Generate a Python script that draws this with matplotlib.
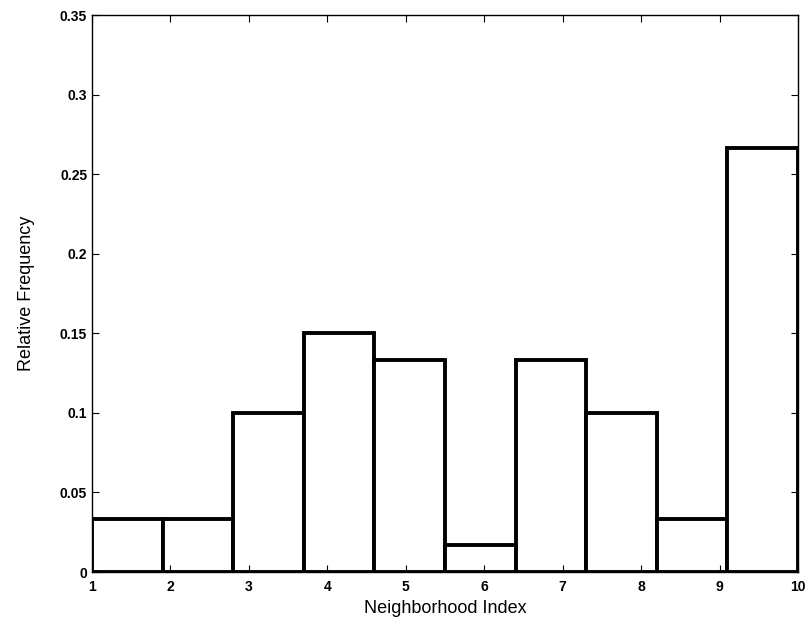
import matplotlib.pyplot as plt
import numpy as np

plt.rcParams['font.family'] = ['Liberation Sans', 'DejaVu Sans']

# counts per bin (out of 60 samples)
counts = np.array([2, 2, 6, 9, 8, 1, 8, 6, 2, 16])
freq = counts / counts.sum()
edges = np.linspace(1, 10, len(counts) + 1)
xticks = np.arange(1, 11)
yticks = np.arange(0, 0.351, 0.05)

fig = plt.figure(figsize=(8.09, 6.24), dpi=100)
ax = fig.add_axes([92 / 809, 1 - 572 / 624, 706 / 809, 557 / 624])

ax.bar(edges[:-1], freq, width=np.diff(edges), align='edge',
       facecolor='white', edgecolor='black', linewidth=2.8)

ax.set_xlim(1, 10)
ax.set_ylim(0, 0.35)
ax.set_xticks(xticks)
ax.set_yticks(yticks)
ax.set_yticklabels(['0' if v == 0 else '%g' % round(v, 2) for v in yticks])
ax.tick_params(direction='in', top=True, right=True, length=5, width=0.8,
               labelsize=10)
for lbl in ax.get_xticklabels() + ax.get_yticklabels():
    lbl.set_fontweight('bold')
ax.tick_params(axis='x', pad=6)
for s in ax.spines.values():
    s.set_linewidth(1.0)

ax.set_xlabel('Neighborhood Index', fontsize=13, labelpad=4)
ax.set_ylabel('Relative Frequency', fontsize=13, labelpad=18)

fig.savefig('out.png', dpi=100)
